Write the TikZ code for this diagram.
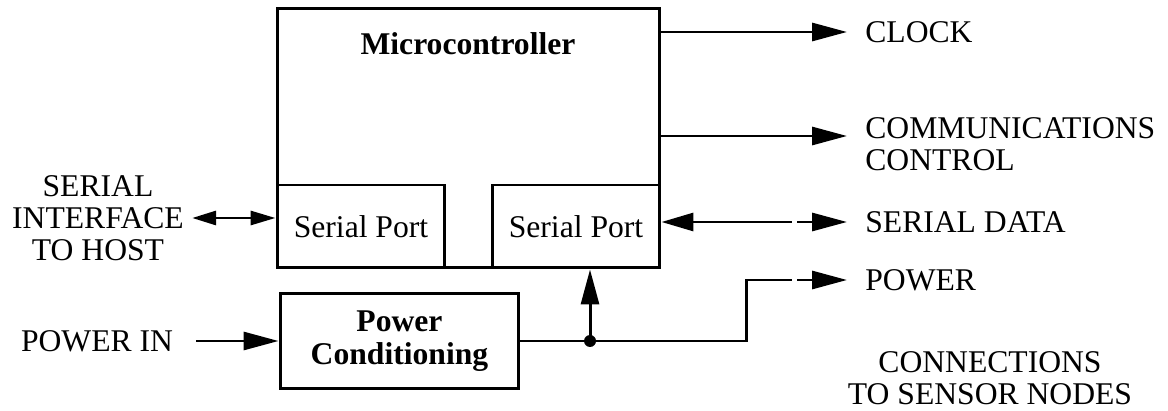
\documentclass[tikz,border=0pt]{standalone}
\usepackage{fontspec}
\setmainfont{Liberation Serif}
\usetikzlibrary{arrows.meta}
\tikzset{
  blk/.style={draw,line width=1.7pt,inner sep=0pt},
  lbl/.style={inner sep=0pt,font=\fontsize{18}{18.2}\selectfont,align=center},
  wire/.style={line width=1.7pt},
  sigarrow/.style={-{Triangle[length=0.7cm,width=0.36cm]}},
  hostarrow/.style={{Triangle[length=0.48cm,width=0.28cm]}-{Triangle[length=0.5cm,width=0.28cm]}},
}

\begin{document}
\begin{tikzpicture}[x=0.02cm,y=-0.02cm]
\path[use as bounding box] (0,0) rectangle (1168,411);
\node[blk,minimum width=7.66cm,minimum height=5.2cm] (mcu) at (468.5,138) {};
\node[lbl,font=\fontsize{18}{18.2}\selectfont\bfseries] (mcutxt) at (468,44) {Microcontroller};
\node[blk,lbl,minimum width=3.36cm,minimum height=1.66cm] (sphost) at (361,226.5) {Serial Port};
\node[blk,lbl,minimum width=3.36cm,minimum height=1.66cm] (spnode) at (576,226.5) {Serial Port};
\node[blk,lbl,font=\fontsize{18}{19}\selectfont\bfseries,minimum width=4.78cm,minimum height=1.92cm] (pwrc) at (399.5,341) {Power\\Conditioning};
\node[lbl] (host) at (98,218) {SERIAL\\INTERFACE\\TO HOST};
\node[lbl] (pin) at (97,341) {POWER IN};
\node[lbl,anchor=west] (clk) at (865,32) {CLOCK};
\node[lbl,anchor=west,align=left] (comm) at (865,144) {COMMUNICATIONS\\CONTROL};
\node[lbl,anchor=west] (data) at (865,222) {SERIAL DATA};
\node[lbl,anchor=west] (pwrout) at (865,280) {POWER};
\node[lbl] (conn) at (990,378) {CONNECTIONS\\TO SENSOR NODES};
\coordinate (jct) at (590,341);
\coordinate (commend) at ([shift={(-0.36cm,0.16cm)}]comm.west);
\coordinate (datagap) at ([xshift=-1.46cm]data.west);
\coordinate (pwrgap) at ([xshift=-1.46cm]pwrout.west);
\draw[wire,hostarrow] ([xshift=0.16cm]host.east) -- (host.east -| sphost.west);
\draw[wire,sigarrow] ([xshift=0.46cm]pin.east) -- (pwrc.west);
\draw[wire,sigarrow] (mcu.east |- clk.west) -- ([xshift=-0.36cm]clk.west);
\draw[wire,sigarrow] (mcu.east |- commend) -- (commend);
\draw[wire,{Triangle[length=0.64cm,width=0.36cm]}-] (spnode.east |- data.west) -- (datagap);
\draw[wire,sigarrow] ([xshift=0.1cm]datagap) -- ([xshift=-0.36cm]data.west);
\draw[wire] (pwrc.east) -| ([xshift=-0.92cm]pwrgap) -- (pwrgap);
\draw[wire,sigarrow] ([xshift=0.1cm]pwrgap) -- ([xshift=-0.36cm]pwrout.west);
\fill (jct) circle (0.12cm);
\draw[wire,sigarrow] (jct) -- (jct |- spnode.south);
\end{tikzpicture}
\end{document}
